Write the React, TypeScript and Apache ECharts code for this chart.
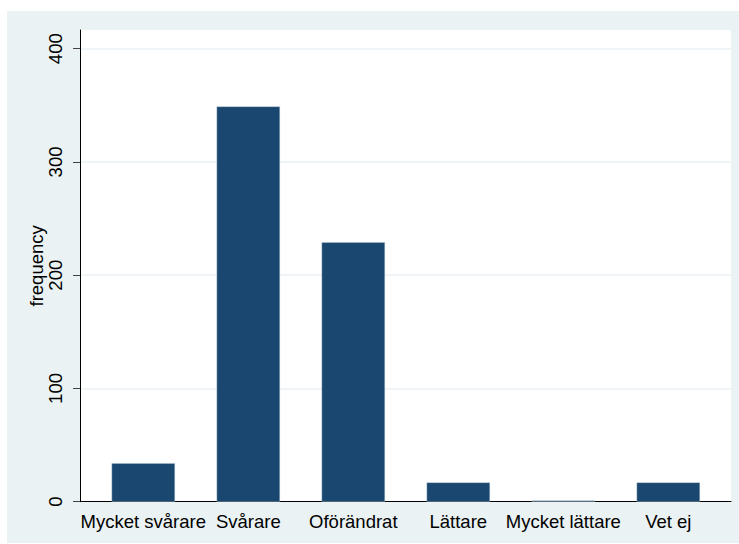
import React, { useEffect, useRef } from "react";
import * as echarts from "echarts";

const categories = ["Mycket svårare", "Svårare", "Oförändrat", "Lättare", "Mycket lättare", "Vet ej"];
const frequencies = [34, 349, 229, 17, 1, 17];
const yTicks = [0, 100, 200, 300, 400];

const FONT = "'Liberation Sans', Arial, Helvetica, sans-serif";

export default function App() {
  const ref = useRef<HTMLDivElement>(null);
  useEffect(() => {
    if (!ref.current) return;
    const chart = echarts.init(ref.current, undefined, { renderer: "svg" });
    const W = 739;
    const H = 544;
    const axisX = 80;
    const plotRight = 731;
    const plotTop = 30;
    const zeroY = 501.7;
    const topTickY = 48.7;
    const bandPadL = 10.8;
    const bandPadR = 10.2;
    chart.setOption({
      animation: false,
      backgroundColor: "#ffffff",
      textStyle: { fontFamily: FONT },
      graphic: [
        {
          type: "rect",
          z: -10,
          silent: true,
          shape: { x: 7, y: 11, width: W - 7, height: 532 },
          style: { fill: "#eaf2f3" },
        },
      ],
      grid: [
        {
          left: axisX,
          right: W - plotRight,
          top: plotTop,
          bottom: H - zeroY,
          show: true,
          backgroundColor: "#ffffff",
          borderWidth: 0,
        },
        {
          left: axisX,
          right: W - plotRight,
          top: topTickY,
          bottom: H - zeroY,
        },
        {
          left: axisX + bandPadL,
          right: W - plotRight + bandPadR,
          top: topTickY,
          bottom: H - zeroY,
        },
      ],
      xAxis: [
        {
          gridIndex: 0,
          type: "category",
          data: [""],
          axisLine: { show: true, lineStyle: { color: "#000", width: 1 } },
          axisTick: { show: false },
          axisLabel: { show: false },
        },
        {
          gridIndex: 1,
          type: "category",
          data: [""],
          show: false,
        },
        {
          gridIndex: 2,
          type: "category",
          data: categories,
          axisLine: { show: false },
          axisTick: { show: false },
          axisLabel: {
            interval: 0,
            color: "#000",
            fontSize: 18.5,
            fontFamily: FONT,
            margin: 10,
          },
        },
      ],
      yAxis: [
        {
          gridIndex: 0,
          type: "value",
          min: 0,
          max: 1,
          name: "frequency",
          nameLocation: "middle",
          nameGap: 34,
          nameTextStyle: { color: "#000", fontSize: 18.5, fontFamily: FONT },
          axisLine: { show: true, lineStyle: { color: "#000", width: 1 } },
          axisTick: { show: false },
          axisLabel: { show: false },
          splitLine: { show: false },
        },
        {
          gridIndex: 1,
          type: "value",
          min: yTicks[0],
          max: yTicks[yTicks.length - 1],
          interval: 100,
          axisLine: { show: false },
          axisTick: { show: true, length: 7, lineStyle: { color: "#444", width: 1 } },
          axisLabel: {
            rotate: 90,
            color: "#000",
            fontSize: 18.5,
            fontFamily: FONT,
            margin: 15,
          },
          splitLine: { show: true, lineStyle: { color: "#eaf2f3", width: 1.5 } },
        },
        {
          gridIndex: 2,
          type: "value",
          min: yTicks[0],
          max: yTicks[yTicks.length - 1],
          show: false,
        },
      ],
      series: [
        {
          type: "bar",
          xAxisIndex: 2,
          yAxisIndex: 2,
          data: frequencies,
          barWidth: "60.3%",
          itemStyle: { color: "#1a476f", borderColor: "#b9c8d4", borderWidth: 0.4 },
        },
      ],
    });
    return () => chart.dispose();
  }, []);
  return (
    <div
      ref={ref}
      style={{ position: "absolute", left: 0, top: 0, width: 739, height: 544 }}
    />
  );
}
